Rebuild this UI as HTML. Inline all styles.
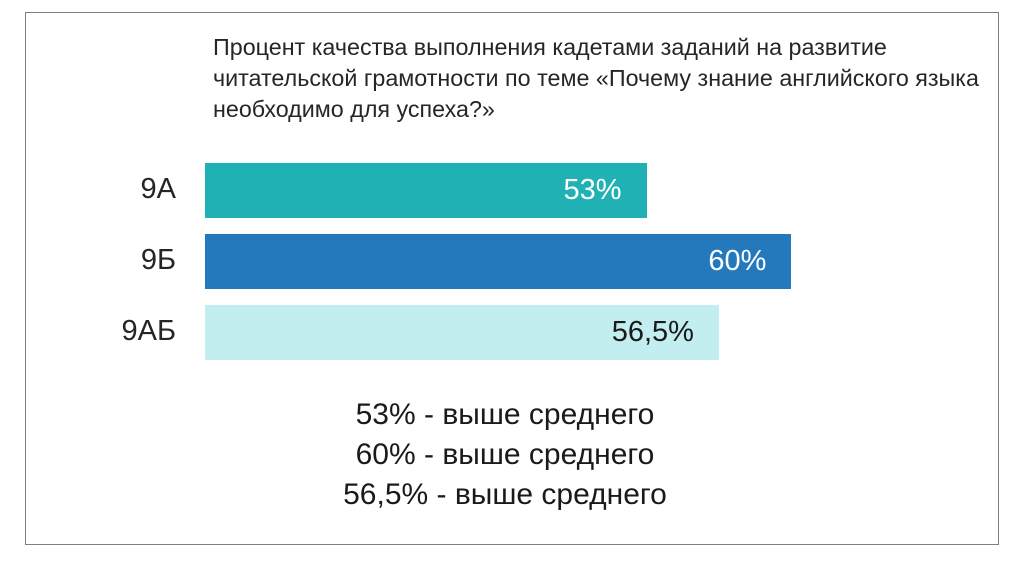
<!DOCTYPE html>
<html><head><meta charset="utf-8">
<style>
body{margin:0;width:1024px;height:574px;background:#fff;position:relative;font-family:"Liberation Sans","DejaVu Sans",sans-serif;overflow:hidden}
#frame{position:absolute;left:25px;top:12px;width:974px;height:533px;border:1px solid #7f7f7f;box-sizing:border-box}
#title{position:absolute;left:213px;top:32px;font-size:23.3px;line-height:31px;color:#262626;white-space:nowrap}
.cat{position:absolute;font-size:29px;color:#262626;width:80px;text-align:right}
.val{position:absolute;font-size:29px;text-align:right}
#notes{position:absolute;left:250px;top:395px;width:510px;text-align:center;font-size:30px;line-height:40px;color:#1a1a1a}
</style></head><body>
<div id="frame"></div>
<div id="title">Процент качества выполнения кадетами заданий на развитие<br>читательской грамотности по теме «Почему знание английского языка<br>необходимо для успеха?»</div>
<div id="chart"></div>
<div id="notes">53% - выше среднего<br>60% - выше среднего<br>56,5% - выше среднего</div>
<script>
const categories=["9А","9Б","9АБ"];
const values=[53,60,56.5];
const valueLabels=["53%","60%","56,5%"];
const colors=["#20b1b5","#2479bd","#c2eef0"];
const textColors=["#ffffff","#ffffff","#1a1a1a"];
const x0=205, vMin=31.67, pxPer=20.7;
function xs(v){return (v-vMin)*pxPer;}
const tops=[163,234,305], h=55;
const c=document.getElementById('chart');
categories.forEach((cat,i)=>{
 const b=document.createElement('div');
 
 
 const w=xs(values[i]);
 b.style.cssText=`position:absolute;left:${x0}px;top:${tops[i]}px;width:${w}px;height:${h}px;background:${colors[i]}`;
 c.appendChild(b);
 const l=document.createElement('div');
 
 
 l.className='cat';
 l.style.left='96px';l.style.top=(tops[i]+10)+'px';
 l.textContent=cat;c.appendChild(l);
 const v=document.createElement('div');
 
 
 v.className='val';
 v.style.left=(x0+w-125)+'px';v.style.width='100px';v.style.top=(tops[i]+11)+'px';v.style.color=textColors[i];
 v.textContent=valueLabels[i];c.appendChild(v);
});
</script>
</body></html>
